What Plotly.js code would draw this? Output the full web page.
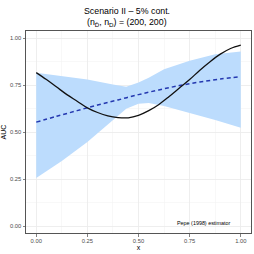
<!DOCTYPE html>
<html><head><meta charset="utf-8">
<script src="https://cdn.plot.ly/plotly-3.0.1.min.js"></script>
<style>html,body{margin:0;padding:0;background:#fff}#chart{width:254px;height:254px}</style>
</head><body><div id="chart"></div>
<script>
// True AUC curve (black solid)
const xTrue = [0,0.05,0.1,0.15,0.2,0.25,0.3,0.35,0.4,0.45,0.5,0.55,0.6,0.65,0.7,0.75,0.8,0.85,0.9,0.95,1];
const aucTrue = [0.817,0.78,0.74,0.70,0.665,0.63,0.605,0.587,0.578,0.577,0.59,0.615,0.648,0.69,0.735,0.78,0.83,0.875,0.915,0.945,0.963];
// Mean estimate (blue dashed)
const xEst = [0,0.1,0.2,0.3,0.4,0.5,0.6,0.7,0.8,0.9,1];
const aucEst = [0.554,0.585,0.615,0.645,0.672,0.70,0.725,0.748,0.767,0.783,0.796];
// Ribbon bounds
const xBand = [0,0.125,0.25,0.375,0.44,0.5,0.55,0.625,0.75,0.875,1];
const bandLower = [0.257,0.347,0.448,0.565,0.625,0.652,0.655,0.64,0.603,0.565,0.524];
const bandUpper = [0.816,0.80,0.78,0.754,0.742,0.765,0.79,0.835,0.88,0.915,0.929];
const xTicks = [0,0.25,0.5,0.75,1];
const xTickText = ["0.00","0.25","0.50","0.75","1.00"];
const yTicks = [0,0.25,0.5,0.75,1];
const yTickText = ["0.00","0.25","0.50","0.75","1.00"];

const FONT = "Liberation Sans, Arial, sans-serif";
const traces = [
  {x: xBand, y: bandLower, mode:'lines', line:{width:0, color:'rgba(0,0,0,0)'}, hoverinfo:'skip', showlegend:false},
  {x: xBand, y: bandUpper, mode:'lines', fill:'tonexty', fillcolor:'#bcdcfd', line:{width:0, color:'rgba(0,0,0,0)'}, hoverinfo:'skip', showlegend:false},
  {x: xEst, y: aucEst, mode:'lines', line:{color:'#2438b0', width:1.5, dash:'4px,3px', shape:'spline'}, showlegend:false},
  {x: xTrue, y: aucTrue, mode:'lines', line:{color:'#111111', width:1.3, shape:'spline'}, showlegend:false}
];
const axBase = {
  showline:true, mirror:true, linecolor:'#555555', linewidth:1,
  ticks:'outside', ticklen:2.5, tickwidth:0.7, tickcolor:'#4d4d4d',
  tickfont:{family:FONT, size:5.8, color:'#4d4d4d'},
  showgrid:true, gridcolor:'#ebebeb', gridwidth:0.8,
  zeroline:false, automargin:false,
  minor:{dtick:0.125, showgrid:true, gridcolor:'#f2f2f2', gridwidth:0.5, ticks:''}
};
const layout = {
  width:254, height:254,
  margin:{l:26, r:3, t:31, b:21},
  paper_bgcolor:'#ffffff', plot_bgcolor:'#ffffff',
  showlegend:false,
  xaxis: Object.assign({}, axBase, {range:[-0.05,1.05], tickvals:xTicks, ticktext:xTickText,
    title:{text:'x', font:{family:FONT, size:7, color:'#000'}, standoff:1}}),
  yaxis: Object.assign({}, axBase, {range:[-0.035,1.038], tickvals:yTicks, ticktext:yTickText,
    title:{text:'AUC', font:{family:FONT, size:7, color:'#000'}, standoff:2}}),
  annotations:[
    {xref:'paper', yref:'paper', x:0.449, y:1.099, xanchor:'center', yanchor:'middle', showarrow:false,
     text:'Scenario II \u2013 5% cont.', font:{family:FONT, size:8.8, color:'#000'}},
    {xref:'paper', yref:'paper', x:0.449, y:1.04, xanchor:'center', yanchor:'middle', showarrow:false,
     text:'(n<sub>D\u0304</sub>, n<sub>D</sub>) = (200, 200)', font:{family:FONT, size:8.8, color:'#000'}},
    {xref:'x', yref:'y', x:0.82, y:0.016, xanchor:'center', yanchor:'middle', showarrow:false,
     text:'Pepe (1998) estimator', font:{family:FONT, size:5.4, color:'#000'}}
  ]
};
Plotly.newPlot('chart', traces, layout, {staticPlot:true, displayModeBar:false});
</script></body></html>
